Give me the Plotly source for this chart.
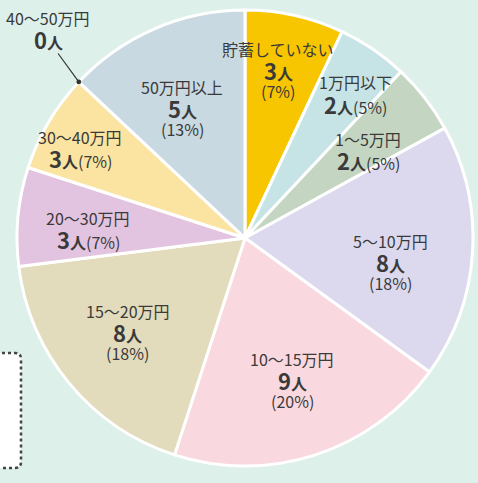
import math

import plotly.graph_objects as go

W, H = 478, 483

categories = ["貯蓄していない", "1万円以下", "1〜5万円", "5〜10万円", "10〜15万円",
              "15〜20万円", "20〜30万円", "30〜40万円", "40〜50万円", "50万円以上"]
people = [3, 2, 2, 8, 9, 8, 3, 3, 0, 5]
percents = [7, 5, 5, 18, 20, 18, 7, 7, 0, 13]

colors = ["#f7c600", "#c6e4e6", "#c4d6c1", "#dcd9ef", "#f9d8df",
          "#e3dcbc", "#e3c4e0", "#fbe4a1", "#fbe4a1", "#c9d9e1"]

# label layout: (center x px, center y px, stacked?)
label_pos = [(278, 70, True), (355, 93, False), (368, 149, False), (390, 262, True),
             (292, 380, True), (128, 332, True), (88, 229, False), (80, 148, False),
             None, (182, 108, True)]

# pie geometry in pixels
CX, CY, R = 245, 238, 228

FONT = "Noto Sans CJK JP"
TXT = "#3a3a3a"
LINE = 21


def px(x):
    return x / W


def py(y):
    return 1 - y / H


def num_text(n):
    return f"<b><span style='font-size:22px'>{n}</span>人</b>"


def text_ann(x, y, text):
    return dict(x=px(x), y=py(y), xref="paper", yref="paper", text=text,
                showarrow=False, xanchor="center", yanchor="middle", align="center",
                font=dict(family=FONT, size=16, color=TXT))


fig = go.Figure(go.Pie(
    labels=categories,
    values=percents,
    sort=False,
    direction="clockwise",
    rotation=0,
    textinfo="none",
    hovertemplate="%{label}<br>%{customdata}人<extra></extra>",
    customdata=people,
    marker=dict(colors=colors, line=dict(color="white", width=3)),
    domain=dict(x=[px(CX - R), px(CX + R)], y=[py(CY + R), py(CY - R)]),
    showlegend=False,
))

annotations = []
for name, n, p, pos in zip(categories, people, percents, label_pos):
    if pos is None:
        continue
    x, y, stacked = pos
    if stacked:
        lines = [name, num_text(n), f"({p}%)"]
    else:
        lines = [name, num_text(n) + f"({p}%)"]
    top = y - LINE * (len(lines) - 1) / 2
    for k, line in enumerate(lines):
        annotations.append(text_ann(x, top + k * LINE, line))

# zero slice: label outside with a leader line to its position on the rim
i0 = people.index(0)
ang = sum(percents[:i0]) / sum(percents) * 2 * math.pi
dot_x = CX + R * math.sin(ang)
dot_y = CY - R * math.cos(ang)
annotations.append(text_ann(48, 18, categories[i0]))
annotations.append(text_ann(48, 39, num_text(people[i0])))
annotations.append(dict(
    x=px(dot_x), y=py(dot_y), xref="paper", yref="paper", text="",
    showarrow=True, arrowhead=6, arrowsize=1, arrowwidth=1.2, arrowcolor="#333",
    axref="pixel", ayref="pixel", ax=57 - dot_x, ay=52 - dot_y,
))

fig.update_layout(
    width=W, height=H,
    margin=dict(l=0, r=0, t=0, b=0),
    paper_bgcolor="#ddf0ea",
    plot_bgcolor="#ddf0ea",
    annotations=annotations,
    shapes=[dict(
        type="path", xref="paper", yref="paper",
        path=(f"M {px(-10)},{py(353)} L {px(15)},{py(353)} "
              f"Q {px(21)},{py(353)} {px(21)},{py(359)} L {px(21)},{py(462)} "
              f"Q {px(21)},{py(468)} {px(15)},{py(468)} L {px(-10)},{py(468)} Z"),
        fillcolor="white", line=dict(color="#444", width=2.5, dash="dot"),
    )],
)

fig.write_html("out.html", config={"displayModeBar": False},
               post_script="document.body.style.margin='0';document.body.style.overflow='hidden';")
